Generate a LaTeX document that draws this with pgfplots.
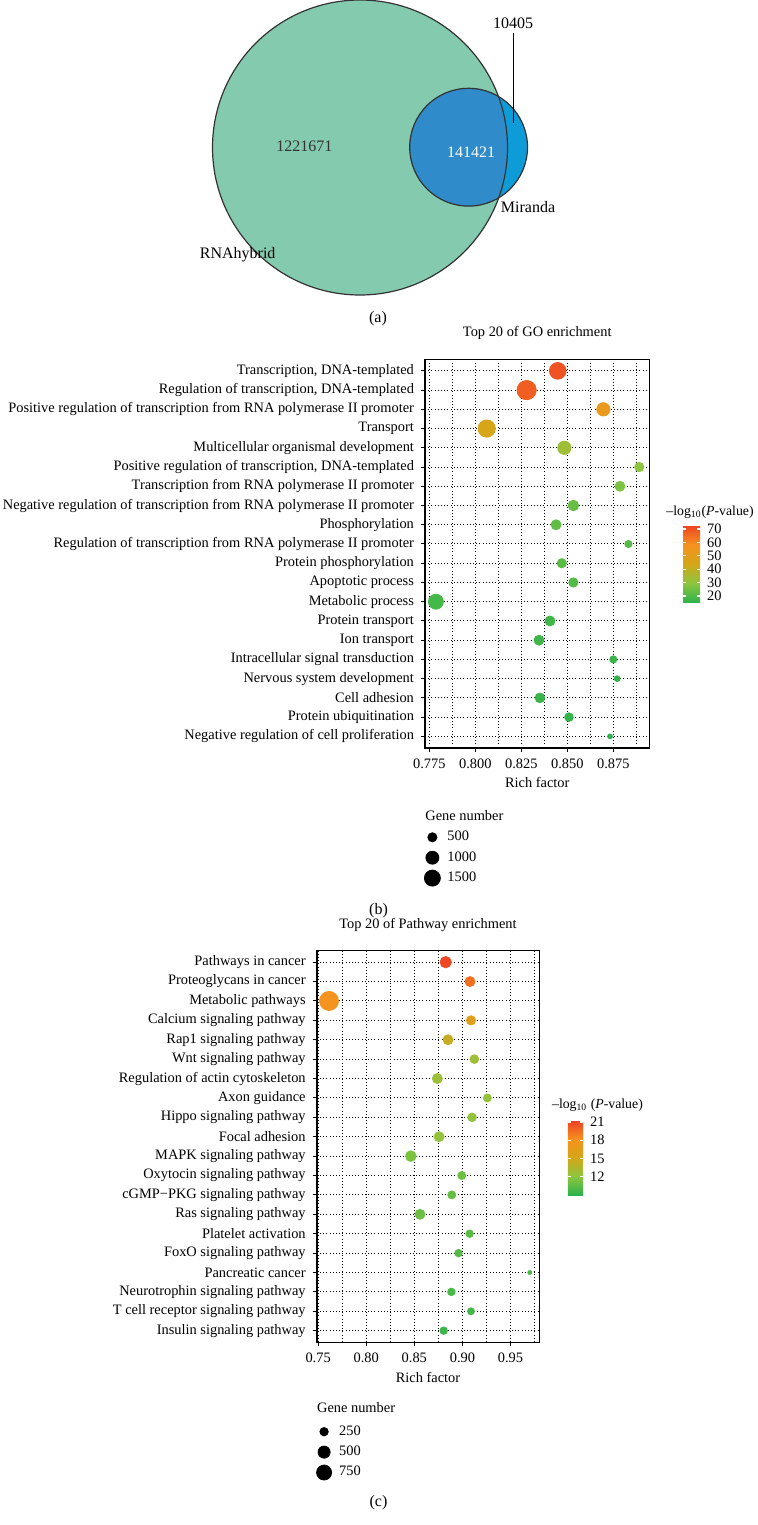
\documentclass[border=0pt]{standalone}
\usepackage{fontspec}
\setmainfont{Liberation Serif}
\usepackage{pgfplots}
\usepackage{pgfplotstable}
\pgfplotsset{compat=1.18,/pgf/number format/assume math mode=true}

\definecolor{vgreen}{HTML}{83CAAE}
\definecolor{vblue}{HTML}{2F8BCA}
\definecolor{vlblue}{HTML}{0E9CD8}
\definecolor{vline}{HTML}{333333}
\pgfplotsset{colormap={gr}{rgb255(0cm)=(44,178,75); rgb255(1cm)=(140,198,63); rgb255(2cm)=(212,166,24); rgb255(3cm)=(246,146,30); rgb255(4cm)=(238,66,36)}}

\newcommand\ff{\fontsize{7.2}{8.6}\selectfont}
\newcommand\cf{\fontsize{6.9}{8.3}\selectfont}
\newcommand\vf{\fontsize{8}{9.6}\selectfont}

% GO enrichment: row, rich factor, gene number, -log10(P)
\pgfplotstableread{
idx x n p
0 0.8448 1630 70
1 0.8279 2160 68
2 0.8696 1050 53
3 0.8062 1750 45
4 0.8484 1050 33
5 0.8891 530 30
6 0.8786 610 27
7 0.8533 690 24
8 0.8439 610 23
9 0.8832 340 21
10 0.8470 530 22
11 0.8533 530 21
12 0.7786 1320 19
13 0.8406 610 18
14 0.8346 610 18
15 0.8750 335 17
16 0.8771 230 16
17 0.8351 575 17
18 0.8509 470 16
19 0.8732 170 15
}\godata

% KEGG pathway enrichment
\pgfplotstableread{
idx x n p
0 0.8826 440 21
1 0.9079 350 19.5
2 0.7613 1190 18
3 0.9089 305 16
4 0.8850 350 14.5
5 0.9124 270 12.8
6 0.8739 350 12.6
7 0.9259 235 12.4
8 0.9100 270 12.3
9 0.8757 350 12.4
10 0.8463 395 11.5
11 0.8993 235 11
12 0.8889 235 10.8
13 0.8559 350 11
14 0.9075 210 10.5
15 0.8959 210 10.3
16 0.9700 80 10
17 0.8885 210 10
18 0.9089 185 9.8
19 0.8805 210 9.5
}\kgdata

\pgfplotsset{
  bubble/.style={
    scale only axis, anchor=north west, y dir=reverse,
    ymin=-0.6, ymax=19.6, ytick={0,...,19},
    tick pos=left, tick align=outside,
    major tick length=2pt, minor tick length=0pt,
    tick style={black, line width=0.5pt},
    axis line style={line width=0.8pt},
    xmajorgrids, xminorgrids, ymajorgrids,
    grid style={black, line width=0.5pt, dash pattern=on 0.5pt off 1.1pt},
    minor grid style={black, line width=0.5pt, dash pattern=on 0.5pt off 1.1pt},
    tick label style={font=\ff},
    title style={font=\ff, at={(0.5,1)}, anchor=center, yshift=7pt},
    xlabel style={font=\ff, at={(0.5,0)}, anchor=center, yshift=-17.5pt},
    xlabel={Rich factor},
    colormap name=gr, colorbar,
    legend image code/.code={\path[draw=none, fill=none] (-4pt,-5.1pt) rectangle (7.5pt,5.1pt); \draw[##1] plot coordinates {(0pt,0pt)};},
    legend cell align=left,
    legend style={at={(0,0)}, anchor=north west, xshift=-0.5pt, yshift=-39.4pt,
      draw=none, fill=none, inner sep=0pt, row sep=0pt, nodes={inner sep=0pt, font=\ff}},
  },
  cbar/.style={
    at={(parent axis.north east)}, anchor=north west, scale only axis,
    tick align=inside, ytick pos=both, yticklabel pos=right,
    major tick length=1.7pt, tick style={white, line width=0.6pt},
    axis line style={draw=none},
    yticklabel style={font=\ff},
  },
}

\begin{document}
\begin{tikzpicture}
\useasboundingbox (0,0) rectangle (378.5pt,-762.5pt);

% (a) Venn diagram
\begin{axis}[at={(0pt,0pt)}, anchor=north west, scale only axis,
  width=378.5pt, height=165pt, xmin=0, xmax=757, ymin=0, ymax=330,
  y dir=reverse, hide axis, clip=false]
  \fill[vgreen] (axis cs:360,147.5) circle[radius=147.5];
  \fill[vlblue] (axis cs:468.6,147.2) circle[radius=58.9];
  \begin{scope}
    \clip (axis cs:360,147.5) circle[radius=147.5];
    \fill[vblue] (axis cs:468.6,147.2) circle[radius=58.9];
  \end{scope}
  \draw[vline, line width=0.6pt] (axis cs:360,147.5) circle[radius=147.5];
  \draw[vline, line width=0.6pt] (axis cs:468.6,147.2) circle[radius=58.9];
  \draw[black, line width=0.5pt] (axis cs:513.5,33) -- (axis cs:513.5,123);
  \node[font=\vf, text=vline] at (axis cs:304.3,146.7) {1221671};
  \node[font=\vf, text=white] at (axis cs:471,151.7) {141421};
  \node[font=\vf] at (axis cs:513,23.3) {10405};
  \node[font=\vf] at (axis cs:528,207.3) {Miranda};
  \node[font=\vf] at (axis cs:237.7,255) {RNAhybrid};
  \node[font=\vf] at (axis cs:378,318.3) {(a)};
\end{axis}

% (b) GO enrichment
\begin{axis}[bubble,
  at={(212.5pt,-179.65pt)}, width=112.25pt, height=194.3pt,
  xmin=0.77266, xmax=0.89467,
  xtick={0.775,0.8,0.825,0.85,0.875}, xticklabels={0.775,0.800,0.825,0.850,0.875},
  minor xtick={0.7875,0.8125,0.8375,0.8625,0.8875},
  yticklabels={{Transcription, DNA-templated},{Regulation of transcription, DNA-templated},
    {Positive regulation of transcription from RNA polymerase II promoter},{Transport},
    {Multicellular organismal development},{Positive regulation of transcription, DNA-templated},
    {Transcription from RNA polymerase II promoter},
    {Negative regulation of transcription from RNA polymerase II promoter},{Phosphorylation},
    {Regulation of transcription from RNA polymerase II promoter},{Protein phosphorylation},
    {Apoptotic process},{Metabolic process},{Protein transport},{Ion transport},
    {Intracellular signal transduction},{Nervous system development},{Cell adhesion},
    {Protein ubiquitination},{Negative regulation of cell proliferation}},
  title={Top 20 of GO enrichment},
  point meta min=15, point meta max=73,
  colorbar style={cbar, xshift=8.25pt, yshift=-82.85pt, width=8.5pt, height=38.85pt,
    ytick={20,30,...,70}},
]
\addplot[scatter, only marks, mark=*, forget plot,
  point meta=\thisrow{p},
  scatter/use mapped color={draw=mapped color, fill=mapped color},
  visualization depends on={sqrt(81+0.175*(\thisrow{n}-500))/4 \as \msz},
  scatter/@pre marker code/.append style={/tikz/mark size=\msz}]
  table[x=x, y=idx] {\godata};
\addlegendimage{black, mark=*, mark size=2.3pt}
\addlegendentry{500}
\addlegendimage{black, mark=*, mark size=3.25pt}
\addlegendentry{1000}
\addlegendimage{black, mark=*, mark size=4pt}
\addlegendentry{1500}
\end{axis}
\node[font=\ff, anchor=west, inner sep=0pt] at (212.5pt,-407.8pt) {Gene number};
\node[font=\cf, anchor=west, inner sep=0pt] at (333pt,-256pt) {–log\textsubscript{10}(\textit{P}-value)};
\node[font=\vf] at (189.25pt,-455.3pt) {(b)};

% (c) Pathway enrichment
\begin{axis}[bubble,
  at={(158.35pt,-475.25pt)}, width=111.3pt, height=195.9pt,
  xmin=0.7485, xmax=0.9799,
  xtick={0.75,0.8,0.85,0.9,0.95}, xticklabels={0.75,0.80,0.85,0.90,0.95},
  minor xtick={0.775,0.825,0.875,0.925,0.975},
  yticklabels={{Pathways in cancer},{Proteoglycans in cancer},{Metabolic pathways},
    {Calcium signaling pathway},{Rap1 signaling pathway},{Wnt signaling pathway},
    {Regulation of actin cytoskeleton},{Axon guidance},{Hippo signaling pathway},
    {Focal adhesion},{MAPK signaling pathway},{Oxytocin signaling pathway},
    {cGMP−PKG signaling pathway},{Ras signaling pathway},{Platelet activation},
    {FoxO signaling pathway},{Pancreatic cancer},{Neurotrophin signaling pathway},
    {T cell receptor signaling pathway},{Insulin signaling pathway}},
  title={Top 20 of Pathway enrichment},
  point meta min=9, point meta max=21.2,
  colorbar style={cbar, xshift=5.7pt, yshift=-85.1pt, width=7.65pt, height=37.15pt,
    ytick={12,15,18,21}},
]
\addplot[scatter, only marks, mark=*, forget plot,
  point meta=\thisrow{p},
  scatter/use mapped color={draw=mapped color, fill=mapped color},
  visualization depends on={sqrt(69+0.312*(\thisrow{n}-250))/4 \as \msz},
  scatter/@pre marker code/.append style={/tikz/mark size=\msz}]
  table[x=x, y=idx] {\kgdata};
\addlegendimage{black, mark=*, mark size=2.1pt}
\addlegendentry{250}
\addlegendimage{black, mark=*, mark size=3.03pt}
\addlegendentry{500}
\addlegendimage{black, mark=*, mark size=3.75pt}
\addlegendentry{750}
\end{axis}
\node[font=\ff, anchor=west, inner sep=0pt] at (158.35pt,-704pt) {Gene number};
\node[font=\cf, anchor=west, inner sep=0pt] at (275.85pt,-552.5pt) {–log\textsubscript{10} (\textit{P}-value)};
\node[font=\vf] at (189.25pt,-751.5pt) {(c)};
\end{tikzpicture}
\end{document}
